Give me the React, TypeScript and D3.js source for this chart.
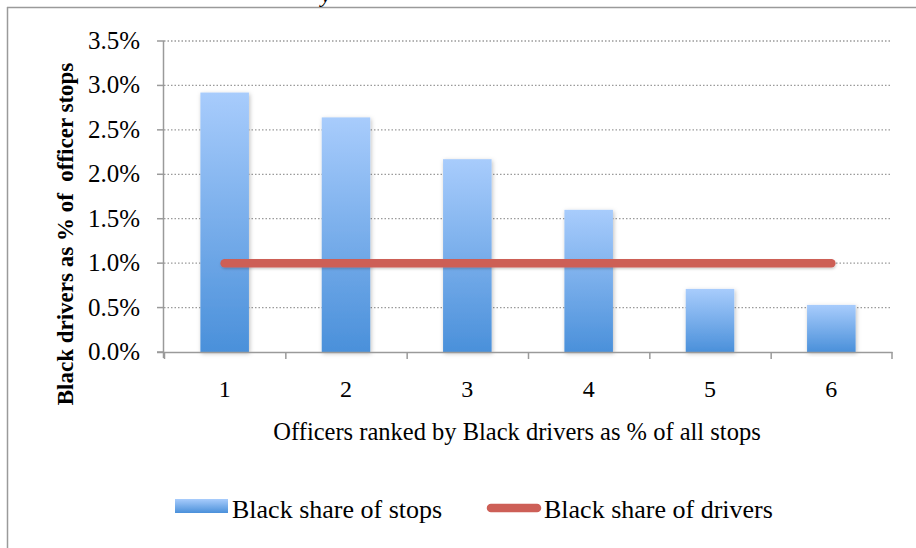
import React from "react";
import * as d3 from "d3";

const categories = ["1", "2", "3", "4", "5", "6"];
const stopsShare = [0.0292, 0.0264, 0.0217, 0.016, 0.0071, 0.0053];
const driversShare = [0.01, 0.01, 0.01, 0.01, 0.01, 0.01];
const yTicks = [0, 0.005, 0.01, 0.015, 0.02, 0.025, 0.03, 0.035];
const seriesNames = ["Black share of stops", "Black share of drivers"];

const W = 916;
const H = 548;
const FONT = "'Liberation Serif', 'DejaVu Serif', serif";

export default function App() {
  const x = d3.scaleBand().domain(categories).range([164, 892]).paddingInner(0.6).paddingOuter(0.3);
  const xb = d3.scaleBand().domain(categories).range([164, 892]);
  const y = d3.scaleLinear().domain([0, 0.035]).range([352, 41]);
  const fmt = d3.format(".1%");
  const line = d3
    .line<number>()
    .x((_, i) => (xb(categories[i]) as number) + xb.bandwidth() / 2)
    .y((d) => y(d));

  return (
    <svg width={W} height={H} style={{ position: "absolute", left: 0, top: 0, background: "#fff" }}>
      <defs>
        <linearGradient id="barGrad" x1="0" y1="0" x2="0" y2="1">
          <stop offset="0%" stopColor="#A8CCFC" />
          <stop offset="100%" stopColor="#4A90DA" />
        </linearGradient>
        <filter id="shadow" x="-20%" y="-10%" width="140%" height="120%">
          <feDropShadow dx="1" dy="1.5" stdDeviation="2" floodColor="#000" floodOpacity="0.25" />
        </filter>
        <filter id="lineShadow" filterUnits="userSpaceOnUse" x="0" y="0" width={W} height={H}>
          <feDropShadow dx="0.5" dy="1.5" stdDeviation="1.2" floodColor="#000" floodOpacity="0.2" />
        </filter>
      </defs>
      <rect x={0} y={0} width={W} height={H} fill="#fff" />
      {/* frame */}
      <line x1={7} y1={7.5} x2={W} y2={7.5} stroke="#9a9a9a" strokeWidth={1.5} />
      <line x1={7.5} y1={7} x2={7.5} y2={H} stroke="#9a9a9a" strokeWidth={1.5} />
      {/* clipped title fragment */}
      <text x={321} y={2} fontFamily={FONT} fontStyle="italic" fontSize={22} fill="#000">y</text>

      {/* gridlines */}
      {yTicks.slice(1).map((t) => (
        <line key={t} x1={164} x2={892} y1={y(t)} y2={y(t)} stroke="#9a9a9a" strokeWidth={1.3} strokeDasharray="1.5 2" />
      ))}

      {/* bars */}
      {stopsShare.map((v, i) => (
        <rect
          key={i}
          x={x(categories[i])}
          y={y(v)}
          width={x.bandwidth()}
          height={y(0) - y(v)}
          fill="url(#barGrad)"
          filter="url(#shadow)"
        />
      ))}

      {/* axes */}
      <line x1={163.5} x2={163.5} y1={y(0.035)} y2={y(0) + 6} stroke="#9a9a9a" strokeWidth={1.5} />
      {yTicks.map((t) => (
        <line key={t} x1={157} x2={164} y1={y(t)} y2={y(t)} stroke="#9a9a9a" strokeWidth={1.5} />
      ))}
      <line x1={157} x2={892.5} y1={y(0) + 0.5} y2={y(0) + 0.5} stroke="#9a9a9a" strokeWidth={1.5} />
      {categories.map((c) => (
        <line key={c} x1={(xb(c) as number) + 0.5} x2={(xb(c) as number) + 0.5} y1={y(0)} y2={y(0) + 7} stroke="#9a9a9a" strokeWidth={1.5} />
      ))}
      <line x1={892} x2={892} y1={y(0)} y2={y(0) + 7} stroke="#9a9a9a" strokeWidth={1.5} />

      {/* drivers line */}
      <path
        d={line(driversShare) || ""}
        fill="none"
        stroke="#CD5F57"
        strokeWidth={8.5}
        strokeLinecap="round"
        filter="url(#lineShadow)"
      />

      {/* y tick labels */}
      {yTicks.map((t) => (
        <text key={t} x={140} y={y(t) + 8} textAnchor="end" fontFamily={FONT} fontSize={25} fill="#000">
          {fmt(t)}
        </text>
      ))}

      {/* x tick labels */}
      {categories.map((c) => (
        <text
          key={c}
          x={(xb(c) as number) + xb.bandwidth() / 2}
          y={397}
          textAnchor="middle"
          fontFamily={FONT}
          fontSize={24}
          fill="#000"
        >
          {c}
        </text>
      ))}

      {/* axis titles */}
      <text x={517} y={440} textAnchor="middle" fontFamily={FONT} fontSize={24.5} fill="#000">
        Officers ranked by Black drivers as % of all stops
      </text>
      <text
        transform={`translate(73, 234) rotate(-90)`}
        textAnchor="middle"
        fontFamily={FONT}
        fontSize={23}
        fontWeight="bold"
        fill="#000"
        xmlSpace="preserve"
      >
        Black drivers as % of  officer stops
      </text>

      {/* legend */}
      <rect x={175} y={499} width={53} height={14} fill="url(#barGrad)" />
      <text x={232} y={518} fontFamily={FONT} fontSize={26} fill="#000">{seriesNames[0]}</text>
      <line x1={491} x2={537} y1={508} y2={508} stroke="#CD5F57" strokeWidth={8.5} strokeLinecap="round" />
      <text x={544} y={518} fontFamily={FONT} fontSize={26} fill="#000">{seriesNames[1]}</text>
    </svg>
  );
}
